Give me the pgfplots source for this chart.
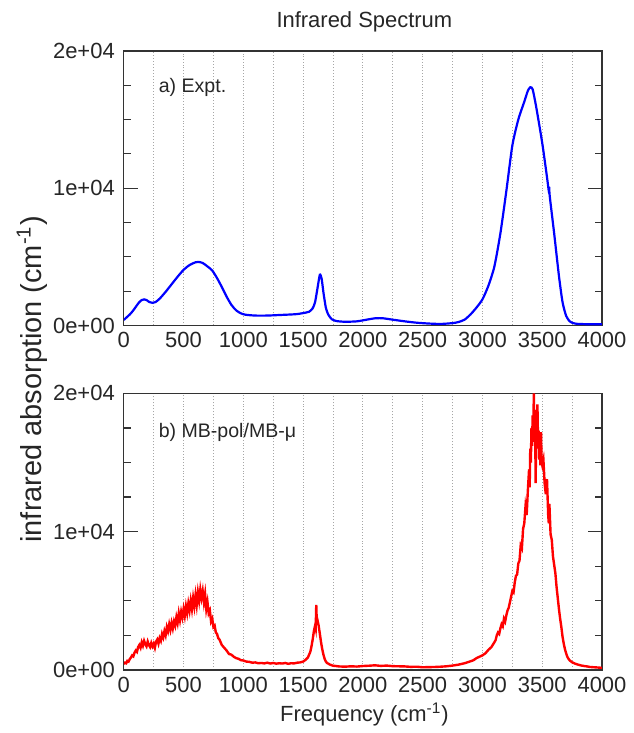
\documentclass[border=0pt]{standalone}
\usepackage{pgfplots}
\pgfplotsset{compat=1.18}
\usepackage{fontspec}
\setmainfont{Liberation Sans}
\pgfplotstableread{
x y
0 400
25 600
50 800
75 1050
100 1350
125 1650
150 1850
170 1900
190 1850
215 1700
240 1650
265 1700
300 1950
350 2450
400 3000
450 3550
500 4050
550 4400
600 4600
630 4620
660 4550
700 4300
740 4000
780 3450
820 2800
860 2100
900 1500
940 1100
980 880
1020 780
1100 720
1200 720
1300 760
1400 800
1450 830
1500 900
1550 1000
1580 1250
1600 1700
1620 2700
1640 3700
1655 3400
1670 2400
1690 1300
1710 800
1740 450
1780 320
1850 270
1950 300
2050 450
2110 530
2170 520
2250 420
2350 300
2450 200
2550 140
2650 110
2750 170
2800 250
2850 420
2900 800
2950 1300
3000 1900
3050 2900
3100 4300
3150 6700
3200 9800
3250 13100
3300 15000
3350 16300
3380 17100
3400 17350
3420 17200
3450 15900
3500 13300
3540 10800
3555 9800
3560 10100
3562 9500
3600 6700
3640 3600
3670 1700
3700 700
3730 300
3760 170
3800 110
3900 90
4000 90
}\expt
\pgfplotstableread{
x y
0 420
10 520
20 480
30 650
40 600
50 780
60 900
70 1050
80 980
90 1250
100 1400
110 1300
120 1650
130 1800
140 1600
150 2000
160 1750
170 2100
180 1850
190 1700
200 2050
210 1800
220 1650
230 1950
240 1700
250 1900
260 1600
270 2050
280 2200
290 1900
300 2300
310 2100
320 2600
330 2350
340 2800
350 2500
360 3100
370 2800
380 3300
390 2900
400 3400
410 3000
420 3500
430 3200
440 3800
450 3400
460 4100
470 3600
480 4200
490 3800
500 4400
510 3900
520 4600
530 4100
540 4800
550 4300
560 5000
570 4400
580 5200
590 4600
600 5400
610 4700
620 5600
630 5000
640 5800
650 5200
660 5700
670 4900
680 5500
690 4400
700 4900
710 4100
720 4300
730 3500
740 3700
750 3100
760 3200
770 2700
780 2600
790 2300
800 2200
820 1800
840 1600
860 1400
880 1150
900 1100
920 950
940 850
960 800
980 700
1000 680
1025 600
1050 580
1075 520
1100 540
1125 480
1150 500
1175 470
1200 520
1225 460
1250 500
1275 450
1300 480
1325 460
1350 500
1375 440
1400 480
1425 470
1450 520
1475 540
1500 600
1520 720
1540 900
1560 1300
1570 1700
1580 2200
1590 2800
1600 3200
1605 3000
1610 4700
1615 3300
1620 3600
1630 3200
1640 2600
1650 2000
1660 1500
1670 1100
1680 800
1690 600
1700 500
1725 380
1750 300
1775 280
1800 250
1850 230
1900 260
1950 240
2000 280
2050 300
2100 330
2150 290
2200 310
2250 270
2300 260
2350 250
2400 220
2450 230
2500 190
2550 200
2600 210
2650 230
2700 260
2750 310
2800 380
2850 480
2900 620
2925 700
2950 850
2975 950
3000 1050
3025 1200
3050 1450
3075 1650
3100 2000
3110 2150
3120 2500
3130 2700
3140 2600
3150 3000
3160 3300
3170 3150
3180 3700
3190 3500
3200 3950
3210 4300
3220 4500
3230 4900
3240 5300
3250 5700
3260 5600
3270 6300
3280 6800
3290 6900
3300 7700
3310 7900
3320 9000
3330 8800
3340 10200
3350 10600
3360 11800
3370 11200
3380 13000
3390 14500
3395 13200
3400 16000
3405 15000
3410 17500
3415 16200
3420 18400
3425 17000
3430 20000
3435 16500
3440 18800
3445 13500
3450 17800
3455 16000
3460 19200
3465 16500
3470 17300
3475 15200
3480 16800
3485 14800
3490 17200
3495 15000
3500 14800
3510 15200
3520 13500
3530 12700
3540 13800
3550 11200
3555 10600
3560 12000
3570 9800
3580 9400
3590 8200
3600 7600
3610 7000
3620 6000
3630 5200
3640 4400
3650 3700
3660 3100
3670 2400
3680 1900
3690 1500
3700 1200
3710 950
3720 800
3730 680
3740 620
3750 550
3775 450
3800 380
3825 320
3850 280
3875 250
3900 210
3950 180
4000 150
}\mbpol
\pgfplotsset{
  irstyle/.style={
    scale only axis,
    width=239.5pt, height=137.5pt,
    anchor=south west,
    xmin=0, xmax=4000, ymin=0, ymax=20000,
    xtick={0,500,...,4000},
    minor xtick={250,750,...,3750},
    ytick={0,10000,20000},
    yticklabels={0e+00,1e+04,2e+04},
    minor ytick={2500,5000,7500,12500,15000,17500},
    scaled ticks=false,
    /pgf/number format/1000 sep={},
    /pgf/number format/assume math mode=true,
    xmajorgrids, xminorgrids,
    grid style={gray!70, densely dotted, line width=0.5pt},
    minor grid style={gray!70, densely dotted, line width=0.5pt},
    x tick style={draw=none},
    y tick style={black!80, line width=0.6pt},
    major tick length=7pt,
    minor tick length=3.5pt,
    ytick pos=both,
    axis line style={black!80, line width=0.7pt},
    tick label style={font=\fontsize{11}{13}\selectfont, black!85},
    yticklabel style={xshift=-1pt},
    clip=true,
  }
}
\begin{document}
\begin{tikzpicture}
\path (0,0) rectangle (315pt,366.5pt);
\begin{axis}[irstyle, at={(62pt,203.5pt)}]
\addplot[blue, line width=1.1pt, smooth, tension=0.4] table[x=x,y=y] {\expt};
\end{axis}
\begin{axis}[irstyle, at={(62pt,31pt)}, height=138.5pt]
\addplot[red, line width=1.2pt] table[x=x,y=y] {\mbpol};
\end{axis}
\node[font=\fontsize{11}{13}\selectfont, black!85] at (182.5pt,355.5pt) {Infrared Spectrum};
\node[font=\fontsize{9.8}{11}\selectfont, black!85, anchor=west] at (76pt,322.5pt) {a) Expt.};
\node[font=\fontsize{9.8}{11}\selectfont, black!85, anchor=west] at (76pt,150pt) {b) MB-pol/MB-μ};
\node[font=\fontsize{14.5}{16}\selectfont, black!85, rotate=90] at (16pt,176.5pt) {infrared absorption (cm\textsuperscript{-1})};
\node[font=\fontsize{11}{13}\selectfont, black!85] at (182.5pt,8.5pt) {Frequency (cm\textsuperscript{-1})};
\end{tikzpicture}
\end{document}
